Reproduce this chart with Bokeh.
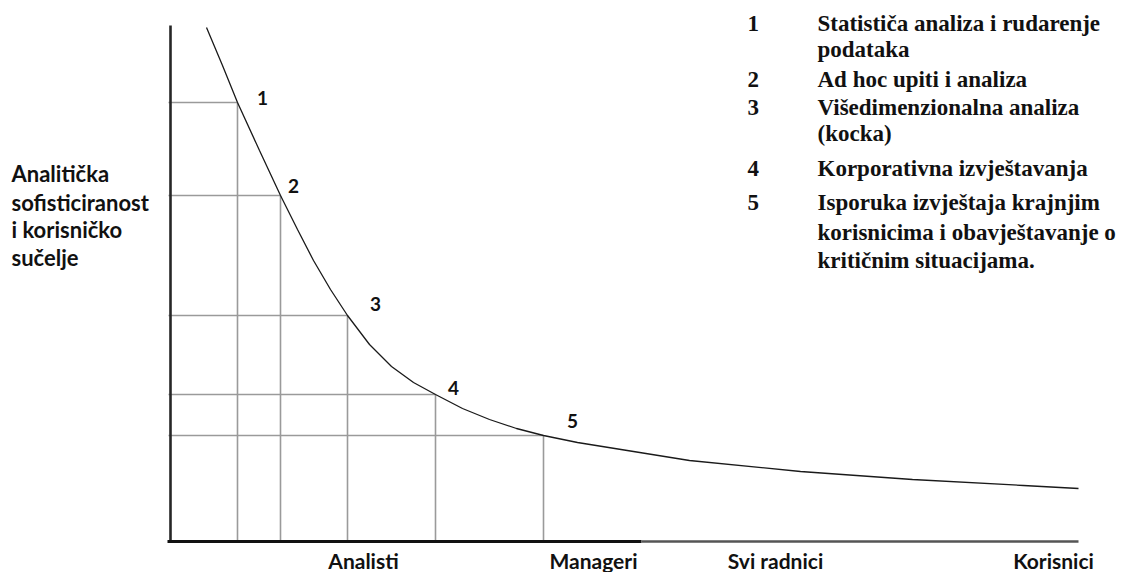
from bokeh.plotting import figure
from bokeh.models import Range1d
from bokeh.core.properties import value
from bokeh.embed import file_html
from bokeh.resources import INLINE

# ---------------- data ----------------
levels = ["1", "2", "3", "4", "5"]
level_x = [67, 110, 177, 265, 373]          # users reached
level_y = [439, 346, 226, 147, 106]         # analytical sophistication

curve_x = [36, 52, 67, 89, 110, 127, 143, 160, 177, 199, 221, 243, 265,
           292, 319, 346, 373, 407, 463, 519, 630, 742, 853, 908]
curve_y = [514, 476, 439, 391, 346, 312, 281, 252, 226, 197, 175, 159, 147,
           133, 122, 113, 106, 99, 90, 81, 70, 62, 56, 53]

user_groups = ["Analisti", "Manageri", "Svi radnici", "Korisnici"]
y_title_lines = ["Analitička", "sofisticiranost", "i korisničko", "sučelje"]

legend_numbers = ["1", "2", "3", "4", "5"]
legend_texts = [
    ["Statističa analiza i rudarenje", "podataka"],
    ["Ad hoc upiti i analiza"],
    ["Višedimenzionalna analiza", "(kocka)"],
    ["Korporativna izvještavanja"],
    ["Isporuka  izvještaja krajnjim", "korisnicima i obavještavanje o",
     "kritičnim situacijama."],
]

# ---------------- layout (positions / styles) ----------------
W, H = 1122, 572
label_dx = [25, 13, 28, 18, 29]
label_dy = [5, 10, 12, 7, 15]
group_x = [193, 423, 605, 883]
group_y = -18.5
y_title_x = -159
y_title_y = [368, 339, 312, 284]
legend_num_x = 577
legend_text_x = 647
legend_line_y = [518, 492, 462, 434, 408, 373, 339, 309, 281]
axis_top = 516
axis_x_end = 908
axis_x_dark_end = 471

p = figure(width=W, height=H,
           x_range=Range1d(-170, -170 + W), y_range=Range1d(541 - H, 541),
           output_backend="svg", toolbar_location=None,
           x_axis_location=None, y_axis_location=None, min_border=0)
p.grid.visible = False
p.outline_line_color = None
p.background_fill_color = "white"
p.border_fill_color = "white"

grid_col = "#9a9a9a"
p.segment(x0=[-2] * len(level_x), y0=level_y, x1=level_x, y1=level_y,
          line_color=grid_col, line_width=1.6)
p.segment(x0=level_x, y0=[0] * len(level_x), x1=level_x, y1=level_y,
          line_color=grid_col, line_width=1.6)

# axes
p.segment(x0=[0], y0=[-1], x1=[0], y1=[axis_top], line_color="#262626", line_width=2.6)
p.segment(x0=[-3], y0=[0], x1=[axis_x_dark_end], y1=[0], line_color="#111111", line_width=3)
p.segment(x0=[axis_x_dark_end], y0=[0], x1=[axis_x_end], y1=[0], line_color="#555555", line_width=2.6)

# curve
p.line(curve_x, curve_y, line_color="#1a1a1a", line_width=1.3)

# level numbers
p.text(x=[x + d for x, d in zip(level_x, label_dx)],
       y=[y + d for y, d in zip(level_y, label_dy)],
       text=levels, text_font=value("Lato"), text_font_style="bold",
       text_font_size="19px", text_align="center", text_baseline="middle",
       text_color="#111111")

# user groups under the x axis
p.text(x=group_x, y=[group_y] * len(group_x), text=user_groups,
       text_font=value("Lato"), text_font_style="bold", text_font_size="21px",
       text_align="center", text_baseline="middle", text_color="#111111")

# y axis title
p.text(x=[y_title_x] * len(y_title_lines), y=y_title_y, text=y_title_lines,
       text_font=value("Lato"), text_font_style="bold", text_font_size="22px",
       text_align="left", text_baseline="middle", text_color="#111111")

# legend
num_y, num_t, line_t = [], [], []
i = 0
for n, lines in zip(legend_numbers, legend_texts):
    num_y.append(legend_line_y[i])
    num_t.append(n)
    for ln in lines:
        line_t.append(ln)
        i += 1
p.text(x=[legend_num_x] * len(num_t), y=num_y, text=num_t,
       text_font=value("Liberation Serif"), text_font_style="bold",
       text_font_size="23px", text_align="left", text_baseline="middle",
       text_color="#111111")
p.text(x=[legend_text_x] * len(line_t), y=legend_line_y[:len(line_t)], text=line_t,
       text_font=value("Liberation Serif"), text_font_style="bold",
       text_font_size="23px", text_align="left", text_baseline="middle",
       text_color="#111111")

open("out.html", "w").write(file_html(p, INLINE))
